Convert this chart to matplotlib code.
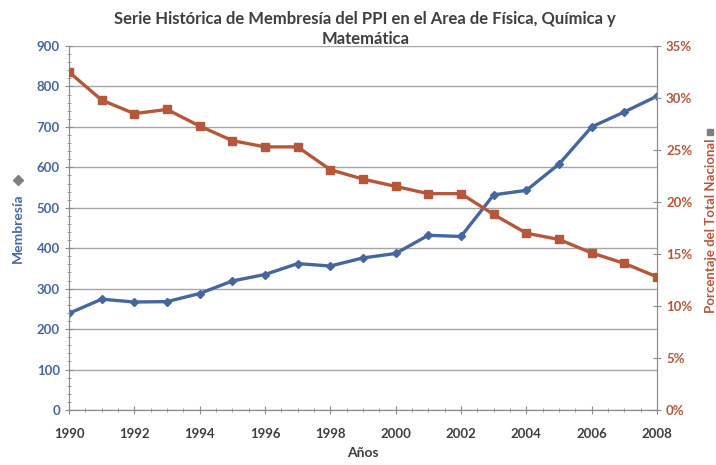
import matplotlib
matplotlib.use("Agg")
import matplotlib.pyplot as plt
from matplotlib.ticker import MultipleLocator, FuncFormatter
from matplotlib.lines import Line2D

plt.rcParams['font.family'] = ['Lato', 'DejaVu Sans']

years = list(range(1990, 2009))
membresia = [239, 274, 267, 268, 288, 319, 335, 362, 356, 376,
             387, 432, 429, 532, 543, 608, 700, 737, 776]
porcentaje = [32.5, 29.8, 28.5, 28.9, 27.3, 25.9, 25.3, 25.3, 23.1, 22.2,
              21.5, 20.8, 20.8, 18.8, 17.0, 16.4, 15.1, 14.1, 12.8]
x_ticks = list(range(1990, 2009, 2))

blue = '#46679E'
red = '#B5573A'
grid_c = '#A6A6A6'
text_c = '#3F3F3F'

fig = plt.figure(figsize=(7.16, 4.65), dpi=100)
ax = fig.add_axes([69 / 716, 1 - 410 / 465, (657 - 69) / 716, (410 - 46) / 465])

ax.plot(years, membresia, color=blue, lw=2.4, marker='D', ms=4.5,
        mfc=blue, mec=blue, zorder=3)
ax.set_xlim(1990, 2008)
ax.set_ylim(0, 900)
ax.yaxis.set_major_locator(MultipleLocator(100))
ax.yaxis.set_minor_locator(MultipleLocator(20))
ax.set_xticks(x_ticks)
ax.xaxis.set_minor_locator(MultipleLocator(0.5))
ax.grid(axis='y', color=grid_c, lw=1.0)
ax.set_axisbelow(True)
for s in ax.spines.values():
    s.set_color('#8C8C8C')
ax.spines['top'].set_visible(False)
ax.tick_params(axis='y', which='both', colors='#8C8C8C', labelcolor=blue,
               direction='inout', length=6, labelsize=9.5)
ax.tick_params(axis='y', which='minor', length=3)
ax.tick_params(axis='x', which='both', colors='#8C8C8C', labelcolor=text_c,
               direction='inout', length=6, labelsize=9.5, pad=10)
ax.tick_params(axis='x', which='minor', length=3)
for lbl in ax.get_yticklabels():
    lbl.set_fontweight('bold')
for lbl in ax.get_xticklabels():
    lbl.set_fontweight('bold')
ax.set_xlabel('Años', fontsize=10, fontweight='bold', color=text_c, labelpad=5)

ax2 = ax.twinx()
ax2.plot(years, porcentaje, color=red, lw=2.4, marker='s', ms=6,
         mfc=red, mec=red, zorder=3)
ax2.set_ylim(0, 35)
ax2.yaxis.set_major_locator(MultipleLocator(5))
ax2.yaxis.set_major_formatter(FuncFormatter(lambda v, p: f'{v:.0f}%'))
for s in ax2.spines.values():
    s.set_color('#8C8C8C')
ax2.spines['top'].set_visible(False)
ax2.tick_params(axis='y', colors='#8C8C8C', labelcolor=red,
                direction='inout', length=6, labelsize=9.5)
for lbl in ax2.get_yticklabels():
    lbl.set_fontweight('bold')

fig.text(0.51, 1 - 29 / 465, 'Serie Histórica de Membresía del PPI en el Area de Física, Química y\nMatemática',
         ha='center', va='center', fontsize=12, fontweight='bold', color=text_c,
         linespacing=1.3)

# y-axis titles with legend keys
fig.text(18 / 716, 1 - 228 / 465, 'Membresía', rotation=90, ha='center', va='center',
         fontsize=10, fontweight='bold', color=blue)
fig.add_artist(Line2D([18 / 716], [1 - 180 / 465], marker='D', ms=5,
                      color='#7F7F7F', transform=fig.transFigure))
fig.text(711 / 716, 1 - 226 / 465, 'Porcentaje del Total Nacional', rotation=90,
         ha='center', va='center', fontsize=9.5, fontweight='bold', color=red)
fig.add_artist(Line2D([710 / 716], [1 - 132 / 465], marker='s', ms=5,
                      color='#7F7F7F', transform=fig.transFigure))

fig.savefig('out.png', dpi=100)
